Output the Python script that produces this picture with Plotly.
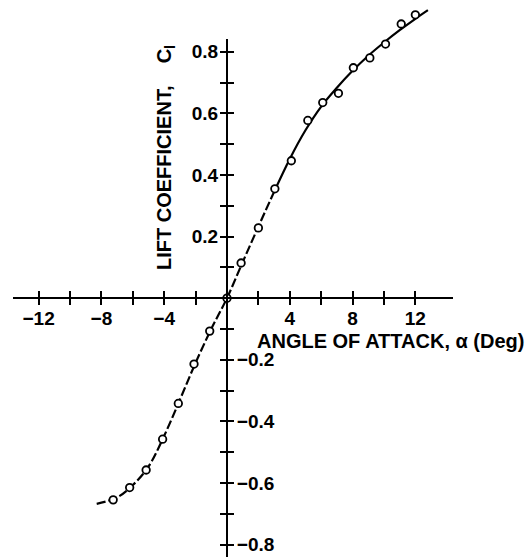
import plotly.graph_objects as go

# Measured section lift coefficient vs. angle of attack
alpha_deg = [-7.25, -6.2, -5.15, -4.1, -3.1, -2.1, -1.1, 0.0, 0.9, 2.0, 3.05,
             4.1, 5.15, 6.1, 7.1, 8.05, 9.1, 10.1, 11.1, 12.0]
cl_measured = [-0.655, -0.615, -0.558, -0.458, -0.342, -0.214, -0.107, 0.0,
               0.114, 0.228, 0.355, 0.446, 0.577, 0.635, 0.665, 0.748, 0.78,
               0.825, 0.89, 0.92]

# Faired curve through the data
fair_alpha = [-8.3, -7.0, -6.0, -5.0, -4.0, -3.0, -2.0, -1.0, 0.0, 1.0, 2.0,
              3.0, 4.0, 5.0, 6.0, 7.0, 8.0, 9.0, 10.0, 11.0, 12.0, 12.8]
fair_cl = [-0.668, -0.647, -0.607, -0.547, -0.447, -0.33, -0.21, -0.1, 0.0,
           0.117, 0.232, 0.345, 0.452, 0.545, 0.622, 0.683, 0.738, 0.787,
           0.83, 0.87, 0.907, 0.935]
dash_until = 3.0  # curve is drawn dashed up to this angle, solid beyond

# Axis ticks and labels
x_ticks = [-12, -10, -8, -6, -4, -2, 2, 4, 6, 8, 10, 12]
x_labels = ["\u221212", "", "\u22128", "", "\u22124", "", "", "4", "", "8", "", "12"]
y_ticks = [-0.8, -0.7, -0.6, -0.5, -0.4, -0.3, -0.2, -0.1,
           0.1, 0.2, 0.3, 0.4, 0.5, 0.6, 0.7, 0.8]
y_labels_left = ["", "", "", "", "", "", "", "",
                 "", "0.2", "", "0.4", "", "0.6", "", "0.8"]
y_labels_right = ["\u22120.8", "", "\u22120.6", "", "\u22120.4", "", "\u22120.2", "",
                  "", "", "", "", "", "", "", ""]

W, H = 529, 559
X_RANGE = [-14.46, 19.24]   # full-frame data range
Y_RANGE = [-0.847, 0.968]
X_LINE = [-13.6, 14.4]      # drawn extent of the axis lines
Y_LINE = [-0.84, 0.84]


def fx(v):
    return (v - X_RANGE[0]) / (X_RANGE[1] - X_RANGE[0])


def fy(v):
    return (v - Y_RANGE[0]) / (Y_RANGE[1] - Y_RANGE[0])


TICK_FONT = dict(family="Liberation Sans", size=19, color="black", weight="bold")
TITLE_FONT = dict(family="Liberation Sans", size=20, color="black", weight="bold")
INK = "black"

dash_x = [a for a in fair_alpha if a <= dash_until]
dash_y = [c for a, c in zip(fair_alpha, fair_cl) if a <= dash_until]
solid_x = [a for a in fair_alpha if a >= dash_until]
solid_y = [c for a, c in zip(fair_alpha, fair_cl) if a >= dash_until]

fig = go.Figure()
fig.add_trace(go.Scatter(x=dash_x, y=dash_y, mode="lines", line_shape="spline",
                         line=dict(color=INK, width=2.2, dash="9px,3px"),
                         hoverinfo="skip"))
fig.add_trace(go.Scatter(x=solid_x, y=solid_y, mode="lines", line_shape="spline",
                         line=dict(color=INK, width=2.2), hoverinfo="skip"))
fig.add_trace(go.Scatter(x=alpha_deg, y=cl_measured, mode="markers",
                         marker=dict(symbol="circle", size=7.5, color="white",
                                     line=dict(color=INK, width=1.8)),
                         cliponaxis=False))
# empty traces so the crossing axis pairs get their own subplots
for xa, ya in (("x2", "y2"), ("x3", "y3")):
    fig.add_trace(go.Scatter(x=[], y=[], xaxis=xa, yaxis=ya, mode="markers",
                             hoverinfo="skip"))

hidden = dict(visible=False, showgrid=False, zeroline=False)
x_axis_common = dict(domain=[fx(X_LINE[0]), fx(X_LINE[1])], range=X_LINE,
                     anchor="free", position=fy(0), showline=True, linewidth=2,
                     linecolor=INK, tickvals=x_ticks, ticklen=6, tickwidth=1.6,
                     tickcolor=INK, showgrid=False, zeroline=False)
y_axis_common = dict(domain=[fy(Y_LINE[0]), fy(Y_LINE[1])], range=Y_LINE,
                     anchor="free", position=fx(0), showline=True, linewidth=2,
                     linecolor=INK, tickvals=y_ticks, ticklen=6, tickwidth=1.6,
                     tickcolor=INK, showgrid=False, zeroline=False)

fig.update_layout(
    width=W, height=H,
    margin=dict(l=0, r=0, t=0, b=0),
    paper_bgcolor="white", plot_bgcolor="rgba(0,0,0,0)",
    showlegend=False,
    xaxis=dict(domain=[0, 1], range=X_RANGE, **hidden),
    yaxis=dict(domain=[0, 1], range=Y_RANGE, **hidden),
    xaxis2=dict(ticks="outside", ticktext=x_labels, tickfont=TICK_FONT,
                side="bottom", ticklabelstandoff=-3, **x_axis_common),
    xaxis3=dict(ticks="inside", showticklabels=False, side="bottom",
                **x_axis_common),
    yaxis2=dict(ticks="outside", ticktext=y_labels_left, tickfont=TICK_FONT,
                side="left", ticklabelstandoff=-2, **y_axis_common),
    yaxis3=dict(ticks="outside", ticktext=y_labels_right, tickfont=TICK_FONT,
                side="right", ticklabelstandoff=-1, **y_axis_common),
    annotations=[
        dict(text="ANGLE OF ATTACK, \u03b1 (Deg)", xref="paper", yref="paper",
             x=526 / W, y=(H - 341) / H, xanchor="right", yanchor="middle",
             showarrow=False, font=TITLE_FONT),
        dict(text="LIFT COEFFICIENT,    C<sub>l</sub>", xref="paper", yref="paper",
             x=166 / W, y=(H - 158) / H, xanchor="center", yanchor="middle",
             textangle=-90, showarrow=False, font=TITLE_FONT),
    ],
)

fig.write_html("out.html")
